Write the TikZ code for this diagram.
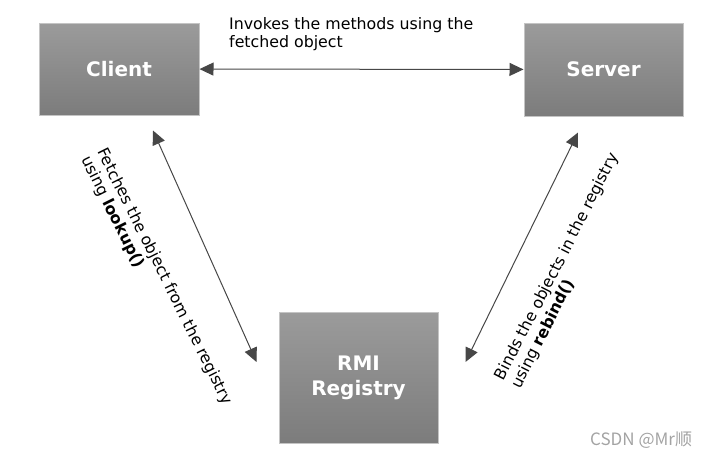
\documentclass[tikz,border=0pt]{standalone}
\usepackage{fontspec}
\setmainfont{DejaVu Sans}
\newfontfamily\cjkfont{Noto Sans CJK SC}
\usepackage{xcolor}
\usepackage{tikz}
\usetikzlibrary{positioning, calc, arrows.meta}

\definecolor{boxtop}{HTML}{9B9B9B}
\definecolor{boxbottom}{HTML}{7C7C7C}
\definecolor{boxline}{HTML}{C4C4C4}
\definecolor{linkgray}{HTML}{474747}
\definecolor{markgray}{HTML}{A3A3A3}

\tikzset{
	box/.style={draw=boxline, line width=1pt, top color=boxtop, bottom color=boxbottom, text=white, font=\fontsize{20}{25}\selectfont\bfseries, align=center, inner sep=0pt},
	link/.style={linkgray, line width=1pt, {Triangle[length=14pt,width=13pt]}-{Triangle[length=14pt,width=13pt]}},
	note/.style={font=\fontsize{15.8}{18}\selectfont, align=left, inner sep=0pt, text=black},
}

\begin{document}
\begin{tikzpicture}[x=1pt, y=-1pt]
			\useasboundingbox (0,0) rectangle (721,458);

			\node [box, minimum width=160pt, minimum height=92pt] (client) at (119,69) {Client};
			\node [box, minimum width=159pt, minimum height=93pt] (server) at (603.5,69.5) {Server};
			\node [box, minimum width=159pt, minimum height=131pt] (registry) at (358.5,377.5) {RMI\\Registry};

			\draw [link] (client) -- (server);
			\draw [link] ([xshift=34pt,yshift=-15pt]client.south) -- ([xshift=-22pt,yshift=15.5pt]registry.west);
			\draw [link] ([xshift=27pt,yshift=15.5pt]registry.east) -- ([xshift=-25.5pt,yshift=-16pt]server.south);

			\node [note, anchor=north west] (invokes) at (229,17) {Invokes the methods using the\\fetched object};
			\node [note, anchor=north west, rotate=-63.5] (fetches) at (108,146) {Fetches the object from the registry\\using \textbf{lookup()}};
			\node [note, anchor=north west, rotate=63] (binds) at (493,376) {Binds the objects in the registry\\using \textbf{rebind()}};

			\node [font=\cjkfont\fontsize{17}{20}\selectfont, text=markgray, anchor=west, inner sep=0pt] (mark) at (590,440) {CSDN @Mr顺};
\end{tikzpicture}
\end{document}
